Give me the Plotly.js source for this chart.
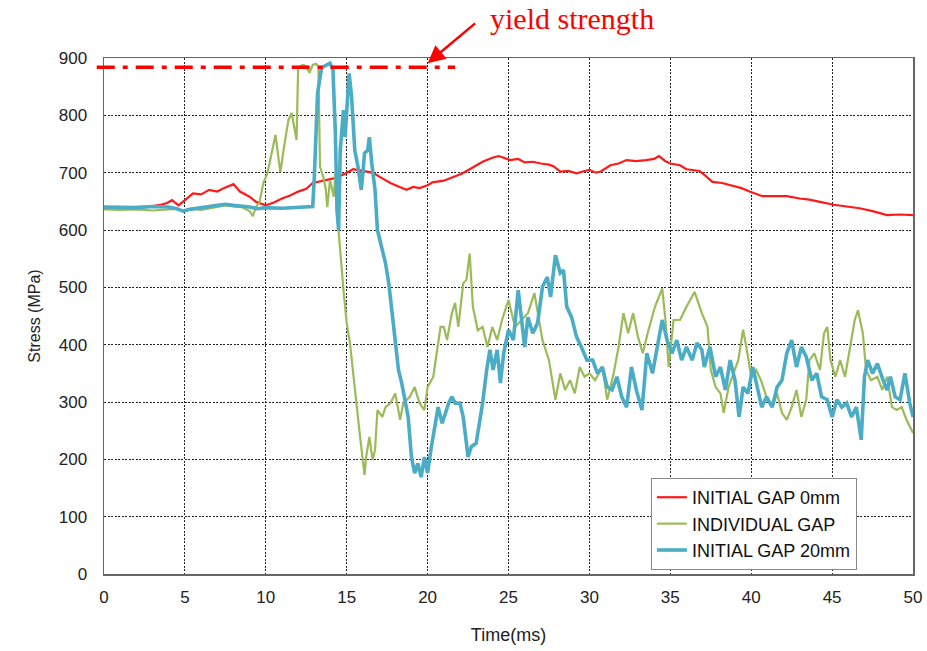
<!DOCTYPE html>
<html>
<head>
<meta charset="utf-8">
<script src="https://cdn.plot.ly/plotly-3.0.1.min.js"></script>
<style>html,body{margin:0;padding:0;background:#fff;}#chart{width:927px;height:651px;}</style>
</head>
<body>
<div id="chart"></div>
<script>
// ---- Data ----
const seriesNames = ["INITIAL GAP 0mm", "INDIVIDUAL GAP", "INITIAL GAP 20mm"];

const redTime = [0,1,2,2.8,3.5,3.9,4.2,4.6,5.0,5.5,6.0,6.5,7.0,7.4,8.0,8.4,9.0,9.4,10.0,10.5,11.0,11.5,12.0,12.5,12.9,13.5,14.2,14.8,15.4,16.0,16.6,17.2,17.7,18.2,18.7,19.1,19.5,20.0,20.3,21.0,21.6,22.1,22.6,23.0,23.4,24.0,24.4,25.1,25.6,26.0,26.5,27.0,27.5,27.8,28.2,28.7,29.2,29.6,30.0,30.4,30.7,31.3,31.8,32.3,32.9,33.5,34.0,34.3,34.7,35.0,35.6,36.0,36.4,36.8,37.2,37.6,38.2,38.9,39.4,39.9,40.3,40.7,41.4,42.2,43.0,43.6,44.25,45.1,45.9,46.7,47.5,48.4,49.2,50];
const redStress = [638,639,640,641,644,647,652,643,652,664,662,670,667,673,680,667,658,649,643,648,655,660,667,672,682,686,690,697,706,703,700,690,682,676,670,675,673,678,683,686,693,698,706,712,719,726,729,722,724,718,719,716,714,711,702,703,699,702,705,700,702,713,716,722,720,722,724,729,720,716,713,706,705,703,694,684,682,676,673,667,663,659,659,659,655,653,649,644,641,638,633,626,627,626];

const greenTime = [0,1,2,3,4,4.5,5.0,5.5,6.0,6.5,7.0,7.5,8.0,8.5,9.0,9.2,9.4,9.6,9.85,10.1,10.4,10.6,10.8,10.9,11.1,11.4,11.6,11.8,11.9,12.0,12.3,12.5,12.7,12.9,13.1,13.25,13.35,13.55,13.7,13.8,13.97,14.2,14.3,14.4,14.5,14.6,14.7,14.8,15.0,15.2,15.4,15.6,15.8,16.0,16.1,16.2,16.4,16.6,16.75,16.9,17.2,17.4,17.7,18.0,18.3,18.5,18.9,19.2,19.5,19.8,20.0,20.35,20.8,21.0,21.2,21.5,21.7,21.9,22.2,22.4,22.6,22.8,23.1,23.4,23.7,24.0,24.3,24.6,25.0,25.4,25.8,26.2,26.6,27.1,27.5,27.9,28.2,28.5,28.8,29.1,29.4,29.7,30.0,30.35,30.8,31.1,31.5,31.8,32.1,32.4,32.7,33.0,33.3,33.6,34.05,34.5,34.7,34.9,35.2,35.6,36.0,36.5,36.95,37.3,37.5,37.8,38.1,38.3,38.6,38.9,39.2,39.5,39.7,40.0,40.3,40.6,41.0,41.3,41.6,41.9,42.2,42.5,42.8,43.1,43.4,43.6,43.9,44.25,44.5,44.7,44.9,45.2,45.5,45.8,46.1,46.4,46.6,46.9,47.1,47.4,47.8,48.1,48.4,48.7,49.0,49.3,49.6,50];
const greenStress = [636,635,636,634,636,637,633,637,635,638,640,643,641,640,633,624,641,647,682,699,739,766,722,701,740,792,804,769,757,884,888,886,874,888,890,885,710,693,672,640,687,658,699,630,600,571,530,495,438,403,356,298,246,199,173,204,239,199,216,286,274,291,298,315,269,298,309,326,298,286,326,344,431,431,408,455,473,431,507,513,559,466,425,431,396,431,408,443,478,431,443,455,490,408,373,304,350,321,338,315,361,344,350,338,361,304,350,396,455,420,455,414,385,420,466,498,443,361,443,443,466,492,455,431,356,326,315,281,326,350,373,426,396,344,356,338,304,291,315,281,269,291,321,274,304,373,385,356,420,431,373,344,373,344,396,443,460,420,356,338,344,321,344,291,286,291,269,246];

const blueTime = [0,1,2,3,4,4.5,4.9,5.3,6.0,6.5,7.0,7.5,8.0,8.5,9.0,9.5,10.0,11.0,12.0,12.9,13.0,13.1,13.2,13.45,13.7,13.97,14.15,14.3,14.4,14.5,14.6,14.7,14.8,14.9,15.15,15.3,15.4,15.5,15.7,15.9,16.0,16.1,16.3,16.4,16.55,16.75,16.9,17.2,17.4,17.6,17.8,18.0,18.2,18.4,18.6,18.8,19.0,19.2,19.4,19.6,19.8,20.0,20.2,20.45,20.65,20.9,21.1,21.3,21.5,21.7,22.0,22.2,22.4,22.5,22.7,23.0,23.2,23.4,23.65,23.85,24.05,24.3,24.5,24.7,25.0,25.3,25.6,25.8,26.0,26.2,26.5,26.8,27.1,27.4,27.6,27.9,28.2,28.4,28.6,28.9,29.2,29.5,29.85,30.2,30.5,30.8,31.1,31.4,31.7,32.0,32.3,32.6,32.9,33.25,33.55,33.9,34.2,34.5,34.8,35.1,35.4,35.7,36.0,36.35,36.65,36.95,37.1,37.45,37.8,38.1,38.4,38.7,39.0,39.25,39.5,39.8,40.1,40.35,40.65,40.95,41.3,41.6,41.9,42.2,42.5,42.8,43.1,43.4,43.75,44.05,44.35,44.7,45.0,45.3,45.6,45.9,46.2,46.5,46.8,47.0,47.2,47.5,47.8,48.15,48.4,48.6,48.9,49.2,49.5,49.8,50];
const blueStress = [640,640,639,641,640,637,633,636,638,641,643,645,643,642,640,637,639,638,639,641,693,769,839,883,887,891,879,769,635,600,739,769,809,762,873,833,787,739,710,670,699,734,739,762,716,670,600,565,542,507,460,403,356,333,304,274,204,176,193,169,204,176,216,257,291,263,281,298,309,298,298,274,228,204,222,228,263,298,356,391,356,391,333,385,426,408,495,443,396,448,420,438,501,518,483,556,525,530,466,448,414,396,373,373,350,361,326,321,344,309,291,361,321,286,385,350,396,443,408,385,408,373,396,373,403,391,361,396,344,361,321,373,338,274,326,315,361,326,291,309,291,326,338,385,408,361,396,379,338,350,309,304,274,304,291,298,274,291,234,344,373,350,367,338,321,344,309,304,350,298,274];

const yieldStrength = 884;
const xTicks = [0,5,10,15,20,25,30,35,40,45,50];
const yTicks = [0,100,200,300,400,500,600,700,800,900];

// ---- Chart ----
const tickFont = {family: "Liberation Sans, Arial, sans-serif", size: 17, color: "#222"};

const traces = [
  {x: redTime, y: redStress, name: seriesNames[0], type: "scatter", mode: "lines",
   line: {color: "#ff1a1a", width: 2.2}},
  {x: greenTime, y: greenStress, name: seriesNames[1], type: "scatter", mode: "lines",
   line: {color: "#9bbb59", width: 2.2}},
  {x: blueTime, y: blueStress, name: seriesNames[2], type: "scatter", mode: "lines",
   line: {color: "#4bacc6", width: 3.6}}
];

const layout = {
  width: 927, height: 651,
  margin: {l: 104, r: 14, t: 58, b: 77},
  paper_bgcolor: "#fff", plot_bgcolor: "#fff",
  showlegend: true,
  legend: {
    x: 0.676, y: 0.186, xanchor: "left", yanchor: "top",
    bgcolor: "#fff", bordercolor: "#888", borderwidth: 1,
    font: {family: "Liberation Sans, Arial, sans-serif", size: 18, color: "#111"},
    itemwidth: 30
  },
  xaxis: {
    range: [0, 50], tickvals: xTicks, ticktext: xTicks.map(String),
    showgrid: true, gridcolor: "#222", gridwidth: 1, griddash: "2px,1.5px",
    showline: true, linecolor: "#666", linewidth: 1.5, mirror: true,
    ticks: "outside", ticklen: 7, tickcolor: "rgba(0,0,0,0)",
    tickfont: tickFont, zeroline: false,
    title: {text: "Time(ms)", font: {family: "Liberation Sans, Arial, sans-serif", size: 18, color: "#222"}, standoff: 22}
  },
  yaxis: {
    range: [0, 900], tickvals: yTicks, ticktext: yTicks.map(String),
    showgrid: true, gridcolor: "#222", gridwidth: 1, griddash: "2px,1.5px",
    showline: true, linecolor: "#666", linewidth: 1.5, mirror: true,
    ticks: "outside", ticklen: 12, tickcolor: "rgba(0,0,0,0)",
    tickfont: tickFont, zeroline: false,
    title: {text: "Stress (MPa)", font: {family: "Liberation Sans, Arial, sans-serif", size: 16, color: "#222"}, standoff: 14}
  },
  shapes: [{
    type: "line", xref: "paper", yref: "y",
    x0: -0.009, x1: 0.434, y0: yieldStrength, y1: yieldStrength,
    line: {color: "#ff0000", width: 3.5, dash: "18px,8px,5px,8px"},
    layer: "above"
  }],
  annotations: [
    {xref: "x", yref: "y", x: 20.0, y: 891, text: "", showarrow: true,
     ax: 49, ay: -41, arrowhead: 2, arrowsize: 1.4, arrowwidth: 2.5, arrowcolor: "#ff0000"},
    {xref: "paper", yref: "paper", x: 0.4747, y: 1.0775, xanchor: "left", yanchor: "middle",
     text: "yield strength", showarrow: false,
     font: {family: "Liberation Serif, Times New Roman, serif", size: 30, color: "#ff0000"}}
  ]
};

Plotly.newPlot("chart", traces, layout, {displayModeBar: false, staticPlot: true});
</script>
</body>
</html>
